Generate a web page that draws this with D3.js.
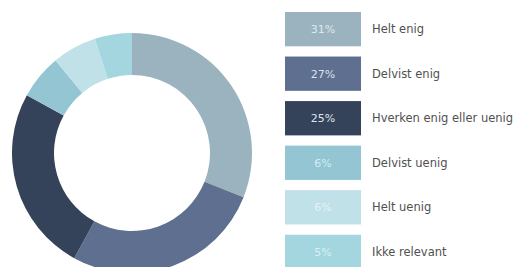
<!DOCTYPE html>
<html>
<head>
<meta charset="utf-8">
<script src="https://cdn.jsdelivr.net/npm/d3@7"></script>
<style>
  body { margin: 0; background: #fff; }
  svg { display: block; }
  .label { font-family: "DejaVu Sans", sans-serif; font-size: 11.5px; fill: #505050; }
  .pct { font-family: "DejaVu Sans", sans-serif; font-size: 11px; }
</style>
</head>
<body>
<div id="chart"></div>
<script>
// answers and their shares (percent)
var categories = ['Helt enig', 'Delvist enig', 'Hverken enig eller uenig', 'Delvist uenig', 'Helt uenig', 'Ikke relevant'];
var values = [31, 27, 25, 6, 6, 5];
var colors = ['#9ab3bf', '#5e6f8f', '#34425a', '#93c5d3', '#bfe1e7', '#a3d6df'];
var textColors = ['#dfe8ed', '#dde3ee', '#dfe5ee', '#d6ebf1', '#e3f2f5', '#d9eff3'];

var width = 520, height = 267;

var svg = d3.select('#chart').append('svg')
  .attr('width', width)
  .attr('height', height);

var data = categories.map(function(c, i) {
  return { name: c, value: values[i], color: colors[i], text: textColors[i] };
});

// DONUT
var pie = d3.pie()
  .sort(null)
  .value(function(d) { return d.value; });

var arc = d3.arc()
  .innerRadius(78)
  .outerRadius(120);

var g = svg.append('g')
  .attr('transform', 'translate(132,153)');

g.selectAll('path')
  .data(pie(data))
  .enter().append('path')
  .attr('d', arc)
  .attr('fill', function(d) { return d.data.color; });

// LEGEND
var y = d3.scaleBand()
  .domain(categories)
  .range([12, 269])
  .paddingInner(0.23)
  .paddingOuter(0);

var legend = svg.append('g');

var rows = legend.selectAll('g')
  .data(data)
  .enter().append('g')
  .attr('transform', function(d) { return 'translate(285,' + y(d.name) + ')'; });

rows.append('rect')
  .attr('width', 76)
  .attr('height', y.bandwidth())
  .attr('fill', function(d) { return d.color; });

rows.append('text')
  .attr('class', 'pct')
  .attr('x', 38)
  .attr('y', y.bandwidth() / 2)
  .attr('dy', '0.35em')
  .attr('text-anchor', 'middle')
  .attr('fill', function(d) { return d.text; })
  .text(function(d) { return d.value + '%'; });

rows.append('text')
  .attr('class', 'label')
  .attr('x', 87)
  .attr('y', y.bandwidth() / 2)
  .attr('dy', '0.35em')
  .text(function(d) { return d.name; });
</script>
</body>
</html>
